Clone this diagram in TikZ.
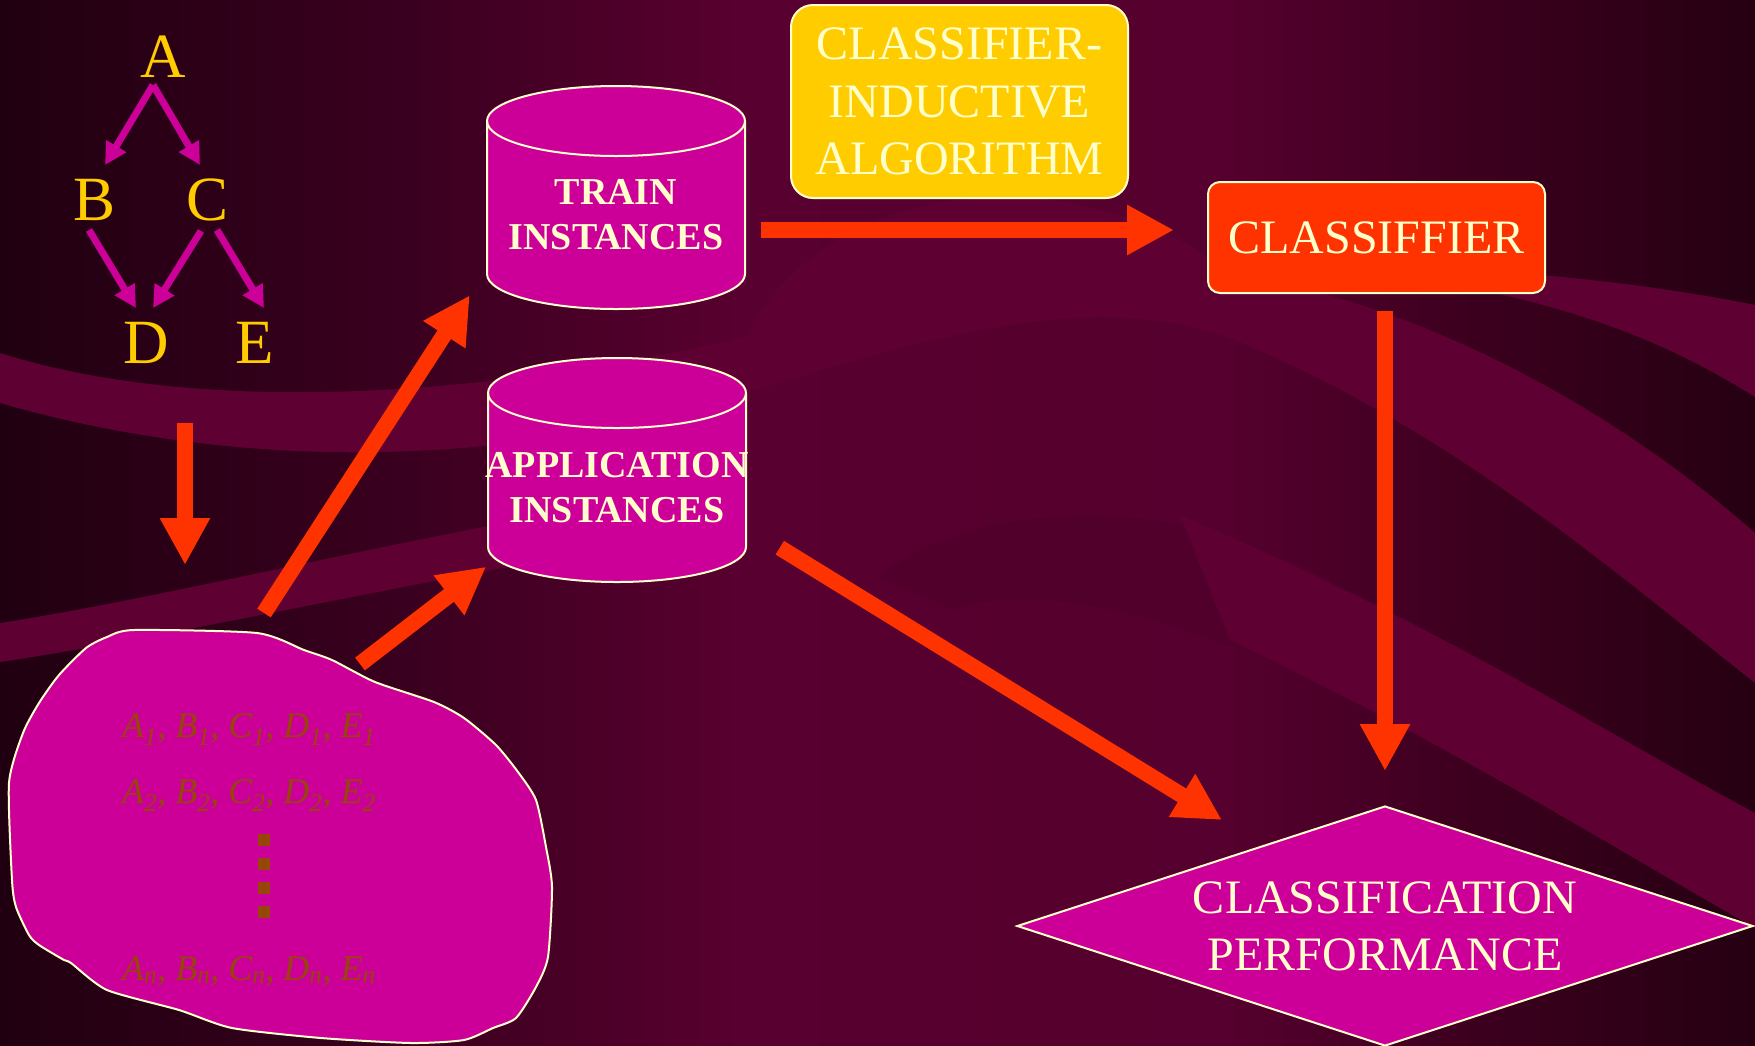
\documentclass[tikz,border=0pt]{standalone}
\usepackage{fontspec}
\setmainfont{Liberation Serif}
\usetikzlibrary{arrows.meta,calc,shapes.geometric}
\definecolor{bg0}{HTML}{200010}
\definecolor{bg1}{HTML}{3A001F}
\definecolor{bg2}{HTML}{58002F}
\definecolor{bg3}{HTML}{55002E}
\definecolor{bg4}{HTML}{3A001D}
\definecolor{bg5}{HTML}{260012}
\definecolor{bandc}{HTML}{5F0032}
\definecolor{darkband}{HTML}{50002B}
\definecolor{yel}{HTML}{FFCC00}
\definecolor{mag}{HTML}{CC0099}
\definecolor{redc}{HTML}{FF3300}
\definecolor{cream}{HTML}{FFFFCC}
\definecolor{brn}{RGB}{150,70,10}
\pgfdeclarehorizontalshading{bgsh}{100bp}{color(0bp)=(bg0); color(25bp)=(bg0); color(36.5bp)=(bg1);
  color(46bp)=(bg2); color(60bp)=(bg3); color(67.5bp)=(bg4); color(75bp)=(bg5); color(100bp)=(bg5)}
\newcommand\dbcyl[4]{%
  \filldraw[cylsty] (#1-#4,#2) -- (#1-#4,#3) arc[start angle=180,end angle=360,x radius=#4pt,y radius=35pt]
    -- (#1+#4,#2) arc[start angle=0,end angle=180,x radius=#4pt,y radius=35pt] -- cycle;
  \draw[cylline] (#1-#4,#2) arc[start angle=180,end angle=360,x radius=#4pt,y radius=35pt];}
\begin{document}
\begin{tikzpicture}[x=1pt,y=-1pt,
  treelbl/.style={text=yel, font=\fontsize{63pt}{63pt}\selectfont, inner sep=0pt, anchor=base},
  rowlbl/.style={text=brn, font=\fontsize{36pt}{36pt}\selectfont\itshape, inner sep=0pt, anchor=base west},
  cyltxt/.style={text=cream, font=\fontsize{38pt}{45pt}\selectfont\bfseries, align=center,
     minimum width=258pt, minimum height=188pt, inner sep=0pt},
  cylsty/.style={fill=mag, draw=cream, line width=2pt},
  cylline/.style={draw=cream, line width=2pt},
  boxtxt/.style={text=cream, font=\fontsize{48pt}{57.5pt}\selectfont, align=center, inner sep=0pt,
     draw=cream, line width=2pt},
  treearrow/.style={draw=mag, line width=7pt, -{Triangle[width=22pt,length=22pt]}},
  bigarrow/.style={draw=redc, line width=16pt, -{Triangle[width=47pt,length=47pt]}},
  blobsty/.style={fill=mag, draw=cream, line width=2pt},
  dotsq/.style={fill=brn}
]
\useasboundingbox (0,0) rectangle (1755,1045);
% ---------- background ----------
\shade[shading=bgsh] (0,0) rectangle (1755,1045);
% dome behind top arrow
\fill[bandc] (746,337) .. controls (790,250) and (880,200) .. (1000,197)
   .. controls (1100,195) and (1200,240) .. (1250,290) -- cycle;
% main swoosh
\fill[bandc] (0,353) .. controls (180,410) and (450,405) .. (746,337)
   .. controls (950,290) and (1150,250) .. (1335,297)
   .. controls (1500,345) and (1650,440) .. (1755,533) -- (1755,683)
   .. controls (1600,560) and (1450,430) .. (1235,340)
   .. controls (1100,290) and (950,330) .. (746,393)
   .. controls (450,485) and (180,455) .. (0,403) -- cycle;
% top right band
\fill[bandc] (1400,268) .. controls (1550,270) and (1680,290) .. (1755,305) -- (1755,397)
   .. controls (1680,350) and (1600,315) .. (1480,290) -- cycle;
% dark arch (its end runs under the lower right band)
\fill[darkband] (878,577) .. controls (960,510) and (1150,480) .. (1330,580) -- (1330,690)
   .. controls (1150,600) and (1010,585) .. (955,610) -- cycle;
% lower right band
\fill[bandc] (1180,515) .. controls (1450,630) and (1600,730) .. (1755,813) -- (1755,928)
   .. controls (1600,840) and (1450,745) .. (1230,640) -- cycle;
% lower left band
\fill[bandc] (0,623) .. controls (150,600) and (350,550) .. (600,505) -- (600,550)
   .. controls (350,595) and (150,640) .. (0,662) -- cycle;

% ---------- tree ----------
\node[treelbl] (A) at (163,77) {A};
\node[treelbl] (B) at (95,220) {B};
\node[treelbl] (C) at (208,220) {C};
\node[treelbl] (D) at (146,363) {D};
\node[treelbl] (E) at (255,363) {E};
\draw[treearrow] ($(A.base)+(-10,8)$) -- ($(B.base)+(10,-55)$);
\draw[treearrow] ($(A.base)+(-10,8)$) -- ($(C.base)+(-8,-55)$);
\draw[treearrow] ($(B.base)+(-6,10)$) -- ($(D.base)+(-10,-55)$);
\draw[treearrow] ($(C.base)+(-7,11)$) -- ($(D.base)+(7,-55)$);
\draw[treearrow] ($(C.base)+(9,10)$) -- ($(E.base)+(9,-55)$);

% ---------- data blob ----------
\filldraw[blobsty] plot[smooth cycle, tension=0.4] coordinates {
 (134,630) (257,633) (304,650) (332,660) (375,682) (434,702) (464,718) (496,745)
 (518,772) (536,800) (546,847) (552,887) (548,957) (536,987) (516,1018) (493,1028)
 (464,1040) (411,1043) (321,1038) (232,1028) (179,1010) (107,990) (71,963) (64,960)
 (39,945) (29,935) (16,907) (12,880) (9,783) (23,733) (39,703) (59,675) (86,648) (107,637)};
\coordinate (blob) at (280,836);
\node[rowlbl] (r1) at (122,737) {A\textsubscript{1}, B\textsubscript{1}, C\textsubscript{1}, D\textsubscript{1}, E\textsubscript{1}};
\node[rowlbl] (r2) at (122,803) {A\textsubscript{2}, B\textsubscript{2}, C\textsubscript{2}, D\textsubscript{2}, E\textsubscript{2}};
\node[rowlbl] (rn) at (122,980) {A\textsubscript{n}, B\textsubscript{n}, C\textsubscript{n}, D\textsubscript{n}, E\textsubscript{n}};
\foreach \yy in {840,864,888,912} \fill[dotsq] (258,\yy-6) rectangle (270,\yy+6);

% ---------- cylinders ----------
\dbcyl{616}{121}{274}{129}
\node[cyltxt] (train) at (616,215) {TRAIN\\INSTANCES};
\dbcyl{617}{393}{547}{129}
\node[cyltxt] (app) at (617,487.5) {APPLICATION\\INSTANCES};

% ---------- boxes ----------
\node[boxtxt, fill=yel, rounded corners=22pt, minimum width=337pt, minimum height=193pt] (algo) at (959.5,101.5)
  {CLASSIFIER-\\INDUCTIVE\\ALGORITHM};
\node[boxtxt, fill=redc, rounded corners=12pt, minimum width=337pt, minimum height=111pt] (cls) at (1376.5,237.5)
  {CLASSIFFIER};
\node[boxtxt, fill=mag, shape=diamond, aspect=3.07, minimum width=736pt, minimum height=240pt,
  font=\fontsize{48pt}{57pt}\selectfont] (perf) at (1385,926) {CLASSIFICATION\\PERFORMANCE};

% ---------- arrows ----------
\draw[bigarrow] ($(D.base)+(39,60)$) -- ($(blob)+(-95,-271)$);
\draw[bigarrow] ($(blob)+(-16,-223)$) -- ($(train.south west)+(-17,-14)$);
\draw[bigarrow] ($(blob)+(80,-172)$) -- ($(app.south west)+(1,-15)$);
\draw[bigarrow] ($(train.east)+(16,15)$) -- ($(cls.west)+(-33,-7.5)$);
\draw[bigarrow] ($(cls.south)+(8.5,17)$) -- ($(perf.north)+(0,-34)$);
\draw[bigarrow] ($(app.south east)+(31,-34)$) -- ($(perf.west)+(206,-106)$);
\end{tikzpicture}
\end{document}
